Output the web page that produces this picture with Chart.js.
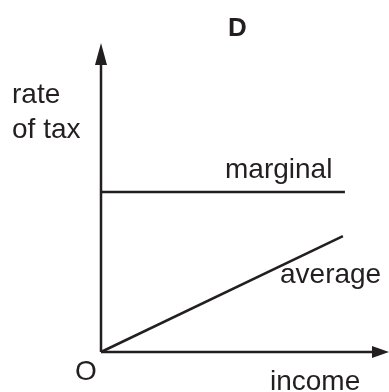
<!DOCTYPE html>
<html>
<head>
<meta charset="utf-8">
<script src="https://cdn.jsdelivr.net/npm/chart.js@4"></script>
<style>
  html, body { margin: 0; padding: 0; background: #fff; }
  #wrap { width: 389px; height: 392px; }
</style>
</head>
<body>
<div id="wrap"><canvas id="taxChart" width="389" height="392"></canvas></div>
<script>
// income (x) and rate of tax (y) for the two lines
const incomeMarginal = [0, 8.47];
const rateMarginal = [5.18, 5.18];
const incomeAverage = [0, 8.4];
const rateAverage = [0, 3.75];
const xMax = 10;
const yMax = 10;

const ink = "#231f20";
const font = "Liberation Sans, Arial, sans-serif";

function toPoints(xs, ys) {
    return xs.map((x, i) => ({ x: x, y: ys[i] }));
}

/* ---------- AXES, ARROWS AND LABELS ---------- */
const sketchPlugin = {
    id: "sketch",
    afterDatasetsDraw(chart) {
        const ctx = chart.ctx;
        const xs = chart.scales.x;
        const ys = chart.scales.y;
        const x0 = xs.getPixelForValue(0);
        const y0 = ys.getPixelForValue(0);
        const xEnd = xs.getPixelForValue(xMax);
        const yEnd = ys.getPixelForValue(yMax);

        ctx.save();
        ctx.strokeStyle = ink;
        ctx.fillStyle = ink;
        ctx.lineWidth = 2.5;

        // axis lines
        ctx.beginPath();
        ctx.moveTo(x0, y0);
        ctx.lineTo(x0, yEnd + 18);
        ctx.moveTo(x0, y0);
        ctx.lineTo(xEnd - 14, y0);
        ctx.stroke();

        // arrow heads
        ctx.beginPath();
        ctx.moveTo(x0, yEnd);
        ctx.lineTo(x0 - 6, yEnd + 22);
        ctx.lineTo(x0 + 6, yEnd + 22);
        ctx.closePath();
        ctx.fill();

        ctx.beginPath();
        ctx.moveTo(xEnd, y0);
        ctx.lineTo(xEnd - 17, y0 - 6);
        ctx.lineTo(xEnd - 17, y0 + 6);
        ctx.closePath();
        ctx.fill();

        // texts
        ctx.textBaseline = "alphabetic";
        ctx.font = "bold 26px " + font;
        ctx.textAlign = "center";
        ctx.fillText("D", 237.5, 36);

        ctx.font = "28px " + font;
        ctx.textAlign = "left";
        ctx.fillText("rate", 12, 103);
        ctx.fillText("of tax", 12, 138);
        ctx.fillText("marginal", 225, 178);
        ctx.fillText("average", 280, 283);
        ctx.fillText("O", 75, 380);
        ctx.fillText("income", 270, 390);
        ctx.restore();
    }
};

new Chart(document.getElementById("taxChart").getContext("2d"), {
    type: "scatter",
    data: {
        datasets: [
            {
                label: "marginal",
                data: toPoints(incomeMarginal, rateMarginal),
                showLine: true,
                borderColor: ink,
                borderWidth: 2.5,
                pointRadius: 0,
                clip: false
            },
            {
                label: "average",
                data: toPoints(incomeAverage, rateAverage),
                showLine: true,
                borderColor: ink,
                borderWidth: 2.5,
                pointRadius: 0,
                clip: false
            }
        ]
    },
    options: {
        responsive: false,
        animation: false,
        layout: { padding: { left: 101, right: 0, top: 43, bottom: 40 } },
        scales: {
            x: { type: "linear", min: 0, max: xMax, display: false },
            y: { type: "linear", min: 0, max: yMax, display: false }
        },
        plugins: {
            legend: { display: false },
            tooltip: { enabled: false }
        }
    },
    plugins: [sketchPlugin]
});
</script>
</body>
</html>
